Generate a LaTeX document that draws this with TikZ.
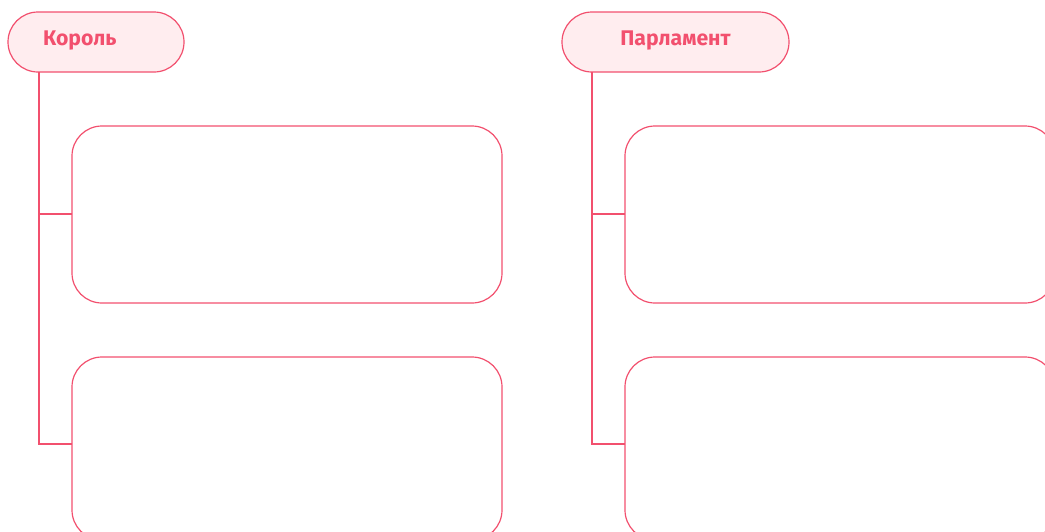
\documentclass[tikz,border=0pt]{standalone}
\usepackage{fontspec}
\setmainfont{Fira Sans}
\definecolor{cred}{HTML}{F2506E}
\definecolor{cpink}{HTML}{FFEDEF}
\begin{document}
\begin{tikzpicture}[x=1pt,y=-1pt,
  pill/.style={draw=cred,fill=cpink,line width=1.2pt,rounded corners=30pt},
  card/.style={draw=cred,line width=1.2pt,rounded corners=30pt},
  link/.style={draw=cred,line width=2.6pt},
  lbl/.style={text=cred,font=\bfseries\fontsize{21.2}{24}\selectfont,inner sep=0pt}]
\path[use as bounding box] (0,0) rectangle (1045,531);
\clip (0,0) rectangle (1045,531);
% left column
\draw[pill] (8,12) rectangle (184,72);
\node[lbl,anchor=west] (king) at (43,40.5) {Король};
\coordinate (kingbot) at (39,72);
\draw[card] (72,126) rectangle (502,303);
\coordinate (c1) at (72,214);
\draw[card] (72,357) rectangle (502,540);
\coordinate (c2) at (72,444);
\draw[link] (kingbot) |- (c1);
\draw[link] (kingbot) |- (c2);
% right column
\draw[pill] (562,12) rectangle (789,72);
\node[lbl] (parl) at (675.5,40.5) {Парламент};
\coordinate (parlbot) at (592,72);
\draw[card] (625,126) rectangle (1055,303);
\coordinate (d1) at (625,214);
\draw[card] (625,357) rectangle (1055,540);
\coordinate (d2) at (625,444);
\draw[link] (parlbot) |- (d1);
\draw[link] (parlbot) |- (d2);
\end{tikzpicture}
\end{document}
